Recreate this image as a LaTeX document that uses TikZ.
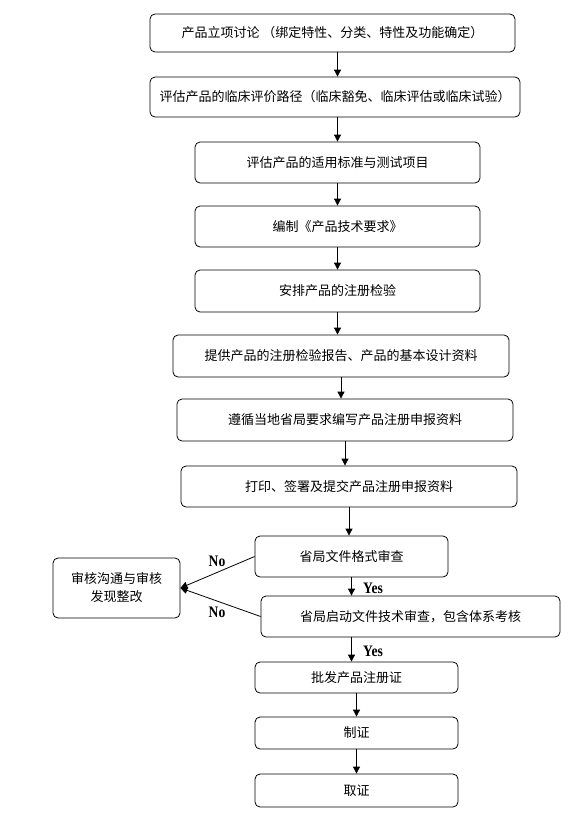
\documentclass[tikz,border=0pt]{standalone}
\usepackage{fontspec}
\usepackage{tikz}
\usetikzlibrary{arrows.meta,positioning,calc}
\newfontfamily\cjk{Noto Sans CJK SC}
\newfontfamily\latinlab[FakeStretch=0.85]{Liberation Serif}

\begin{document}
\begin{tikzpicture}[x=1pt,y=-1pt,
    stage/.style={draw=black,line width=0.8pt,rounded corners=5pt,inner sep=0pt,
      align=center,font=\cjk\fontsize{13}{18}\selectfont},
    flow/.style={draw=black,line width=0.8pt,-{Triangle[length=7pt,width=7pt]}},
    answer/.style={inner sep=0pt,font=\latinlab\bfseries\fontsize{16}{18}\selectfont}]
      \useasboundingbox (0,0) rectangle (578,816);
      % main chain
      \node[stage,minimum width=365pt,minimum height=38pt] (b1) at (332.5,33) {产品立项讨论 （绑定特性、分类、特性及功能确定）};
      \node[stage,minimum width=370pt,minimum height=40pt] (b2) at (335,97) {评估产品的临床评价路径（临床豁免、临床评估或临床试验）};
      \node[stage,minimum width=285pt,minimum height=41pt] (b3) at (337.5,162.5) {评估产品的适用标准与测试项目};
      \node[stage,minimum width=285pt,minimum height=41pt] (b4) at (337.5,226.5) {编制《产品技术要求》};
      \node[stage,minimum width=285pt,minimum height=42pt] (b5) at (337.5,291) {安排产品的注册检验};
      \node[stage,minimum width=336pt,minimum height=42pt] (b6) at (341,356) {提供产品的注册检验报告、产品的基本设计资料};
      \node[stage,minimum width=336pt,minimum height=42pt] (b7) at (345,420) {遵循当地省局要求编写产品注册申报资料};
      \node[stage,minimum width=336pt,minimum height=41pt] (b8) at (349,486.5) {打印、签署及提交产品注册申报资料};
      \node[stage,minimum width=193pt,minimum height=41pt] (b9) at (351.5,556.5) {省局文件格式审查};
      \node[stage,minimum width=299pt,minimum height=41pt] (b10) at (410.5,616.5) {省局启动文件技术审查，包含体系考核};
      \node[stage,minimum width=203pt,minimum height=31pt] (b11) at (356.5,677.5) {批发产品注册证};
      \node[stage,minimum width=203pt,minimum height=32pt] (b12) at (356.5,733) {制证};
      \node[stage,minimum width=203pt,minimum height=33pt] (b13) at (356.5,790.5) {取证};
      % feedback box
      \node[stage,minimum width=127pt,minimum height=60pt] (fix) at (116.5,588) {审核沟通与审核\\发现整改};

      \draw[flow] (b1.south -| b3) -- (b2.north -| b3);
      \draw[flow] (b2.south -| b3) -- (b3.north);
      \foreach \a/\b in {b3/b4,b4/b5,b5/b6,b6/b7,b7/b8,b8/b9,b9/b10,b11/b12,b12/b13}
        \draw[flow] (\a.south) -- (\a.south |- \b.north);
      \draw[flow] (b10.south -| b9) -- (b11.north -| b9);
      \draw[flow] (b9.west) -- (fix.east);
      \draw[flow] (b10.west) -- (fix.east);

      \node[answer] (yes1) at (373,588) {Yes};
      \node[answer] (yes2) at (373,651) {Yes};
      \node[answer] (no1) at (217,561) {No};
      \node[answer] (no2) at (217,612) {No};
    \end{tikzpicture}
\end{document}
